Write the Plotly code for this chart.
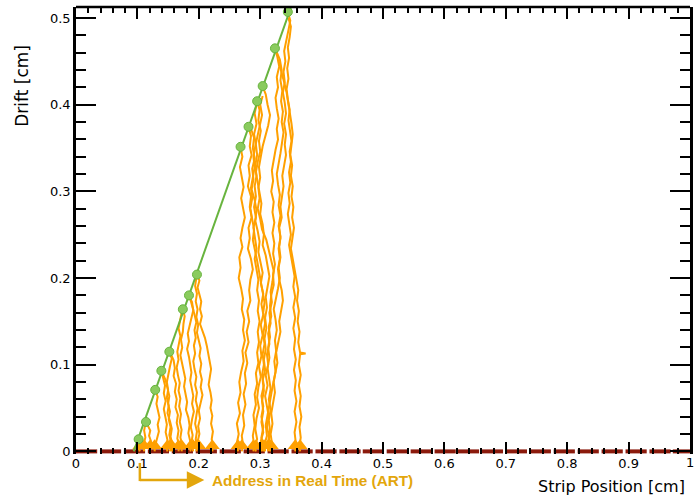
import plotly.graph_objects as go

# ---------------- data ----------------
# primary ionisation clusters along the track (x = strip position, y = drift)
cluster_x = [0.345, 0.324, 0.304, 0.295, 0.281, 0.268, 0.197, 0.184, 0.174, 0.152, 0.139, 0.129, 0.114, 0.102]
cluster_y = [0.507, 0.465, 0.4215, 0.404, 0.3745, 0.3514, 0.204, 0.180, 0.164, 0.115, 0.093, 0.071, 0.034, 0.014]

# straight track
track_x = [0.094, 0.352]
track_y = [0.0, 0.516]

# strip readout (left edges) and strip width
strip_lo = [0.000, 0.039, 0.078, 0.117, 0.156, 0.195, 0.234, 0.273, 0.312, 0.351, 0.390, 0.429, 0.467,
            0.506, 0.545, 0.584, 0.622, 0.661, 0.700, 0.739, 0.778, 0.817, 0.856, 0.895, 0.934, 0.972]
strip_w = 0.0345

# electron drift paths (x, y)
drift_paths = [
    [(0.268,0.351),(0.271,0.340),(0.267,0.328),(0.270,0.316),(0.273,0.305),(0.269,0.292),(0.272,0.281),(0.275,0.270),(0.271,0.258),(0.268,0.246),(0.271,0.236),(0.266,0.224),(0.268,0.212),(0.265,0.200),(0.269,0.188),(0.272,0.176),(0.270,0.164),(0.274,0.152),(0.272,0.140),(0.275,0.128),(0.271,0.116),(0.273,0.104),(0.269,0.092),(0.266,0.080),(0.268,0.068),(0.264,0.056),(0.267,0.044),(0.262,0.032),(0.265,0.020),(0.262,0.010),(0.264,0.0)],
    [(0.281,0.374),(0.285,0.364),(0.283,0.352),(0.286,0.342),(0.281,0.330),(0.283,0.318),(0.280,0.306),(0.285,0.294),(0.283,0.282),(0.286,0.270),(0.281,0.258),(0.283,0.246),(0.280,0.234),(0.285,0.222),(0.288,0.210),(0.284,0.198),(0.282,0.186),(0.284,0.174),(0.279,0.162),(0.282,0.150),(0.278,0.138),(0.281,0.126),(0.276,0.114),(0.279,0.102),(0.275,0.090),(0.277,0.078),(0.273,0.066),(0.276,0.054),(0.272,0.042),(0.274,0.030),(0.270,0.018),(0.272,0.008),(0.270,0.0)],
    [(0.285,0.372),(0.290,0.362),(0.288,0.350),(0.291,0.338),(0.287,0.326),(0.289,0.314),(0.286,0.302),(0.291,0.290),(0.294,0.278),(0.292,0.266),(0.296,0.254),(0.299,0.242),(0.297,0.230),(0.301,0.218),(0.304,0.206),(0.301,0.194),(0.305,0.182),(0.302,0.170),(0.305,0.158),(0.301,0.146),(0.304,0.134),(0.300,0.122),(0.302,0.110),(0.298,0.098),(0.301,0.086),(0.297,0.074),(0.295,0.062),(0.298,0.050),(0.294,0.038),(0.292,0.026),(0.295,0.014),(0.291,0.006),(0.293,0.0)],
    [(0.295,0.404),(0.299,0.394),(0.297,0.382),(0.301,0.370),(0.298,0.358),(0.300,0.346),(0.296,0.334),(0.293,0.322),(0.296,0.310),(0.299,0.298),(0.302,0.286),(0.300,0.274),(0.304,0.262),(0.306,0.250),(0.304,0.238),(0.309,0.226),(0.312,0.214),(0.315,0.202),(0.312,0.190),(0.309,0.178),(0.311,0.166),(0.308,0.154),(0.310,0.142),(0.307,0.130),(0.309,0.118),(0.306,0.106),(0.308,0.094),(0.304,0.082),(0.306,0.070),(0.303,0.058),(0.305,0.046),(0.302,0.034),(0.305,0.022),(0.301,0.012),(0.303,0.0)],
    [(0.304,0.421),(0.309,0.412),(0.312,0.400),(0.316,0.388),(0.313,0.376),(0.308,0.364),(0.304,0.352),(0.301,0.340),(0.298,0.328),(0.300,0.316),(0.297,0.304),(0.299,0.292),(0.296,0.280),(0.300,0.268),(0.303,0.256),(0.310,0.244),(0.314,0.232),(0.318,0.220),(0.322,0.208),(0.320,0.196),(0.317,0.184),(0.319,0.172),(0.315,0.160),(0.317,0.148),(0.313,0.136),(0.315,0.124),(0.311,0.112),(0.313,0.100),(0.309,0.088),(0.312,0.076),(0.308,0.064),(0.311,0.052),(0.314,0.040),(0.311,0.028),(0.315,0.016),(0.312,0.006),(0.313,0.0)],
    [(0.324,0.465),(0.328,0.455),(0.331,0.444),(0.327,0.432),(0.329,0.420),(0.325,0.408),(0.327,0.396),(0.330,0.384),(0.327,0.372),(0.329,0.360),(0.325,0.348),(0.322,0.336),(0.319,0.324),(0.321,0.312),(0.318,0.300),(0.322,0.288),(0.320,0.276),(0.323,0.264),(0.320,0.252),(0.323,0.240),(0.321,0.228),(0.324,0.216),(0.321,0.204),(0.322,0.192),(0.318,0.180),(0.316,0.168),(0.318,0.156),(0.314,0.144),(0.316,0.132),(0.313,0.120),(0.315,0.108),(0.312,0.096),(0.315,0.084),(0.317,0.072),(0.314,0.060),(0.317,0.048),(0.314,0.036),(0.316,0.024),(0.313,0.012),(0.316,0.0)],
    [(0.326,0.462),(0.332,0.452),(0.335,0.440),(0.333,0.428),(0.336,0.416),(0.334,0.404),(0.337,0.392),(0.335,0.380),(0.338,0.368),(0.336,0.356),(0.333,0.344),(0.330,0.332),(0.327,0.320),(0.329,0.308),(0.332,0.296),(0.330,0.284),(0.333,0.272),(0.330,0.260),(0.333,0.248),(0.331,0.236),(0.333,0.224),(0.330,0.212),(0.332,0.200),(0.329,0.188),(0.325,0.176),(0.322,0.164),(0.325,0.152),(0.327,0.140),(0.324,0.128),(0.326,0.116),(0.323,0.104),(0.325,0.092),(0.322,0.080),(0.324,0.068),(0.321,0.056),(0.318,0.044),(0.320,0.032),(0.317,0.020),(0.319,0.010),(0.318,0.0)],
    [(0.345,0.507),(0.349,0.497),(0.346,0.486),(0.342,0.474),(0.339,0.462),(0.341,0.450),(0.338,0.438),(0.340,0.426),(0.337,0.414),(0.340,0.402),(0.342,0.390),(0.339,0.378),(0.342,0.366),(0.340,0.354),(0.342,0.342),(0.339,0.330),(0.336,0.318),(0.338,0.306),(0.335,0.294),(0.333,0.282),(0.335,0.270),(0.331,0.258),(0.333,0.246),(0.330,0.234),(0.332,0.222),(0.329,0.210),(0.331,0.198),(0.335,0.186),(0.337,0.174),(0.334,0.162),(0.331,0.150),(0.333,0.138),(0.329,0.126),(0.326,0.114),(0.328,0.102),(0.324,0.090),(0.321,0.078),(0.318,0.066),(0.315,0.054),(0.312,0.042),(0.309,0.030),(0.311,0.018),(0.307,0.008),(0.308,0.0)],
    [(0.346,0.500),(0.350,0.490),(0.348,0.478),(0.345,0.466),(0.347,0.454),(0.344,0.442),(0.346,0.430),(0.343,0.418),(0.345,0.406),(0.348,0.394),(0.346,0.382),(0.349,0.370),(0.351,0.358),(0.348,0.346),(0.350,0.334),(0.347,0.322),(0.349,0.310),(0.346,0.298),(0.348,0.286),(0.345,0.274),(0.348,0.262),(0.350,0.250),(0.347,0.238),(0.350,0.226),(0.353,0.214),(0.356,0.202),(0.354,0.190),(0.357,0.178),(0.354,0.166),(0.357,0.154),(0.354,0.142),(0.357,0.130),(0.355,0.118),(0.358,0.106),(0.355,0.094),(0.358,0.082),(0.356,0.070),(0.359,0.058),(0.356,0.046),(0.359,0.034),(0.356,0.022),(0.358,0.010),(0.357,0.0)],
    [(0.330,0.450),(0.335,0.438),(0.339,0.426),(0.343,0.414),(0.346,0.402),(0.348,0.390),(0.351,0.378),(0.353,0.366),(0.351,0.354),(0.349,0.342),(0.352,0.330),(0.350,0.318),(0.353,0.306),(0.351,0.294),(0.354,0.282),(0.352,0.270),(0.355,0.258),(0.353,0.246),(0.350,0.234),(0.353,0.222),(0.356,0.210),(0.359,0.198),(0.362,0.186),(0.360,0.174),(0.363,0.162),(0.361,0.150),(0.364,0.138),(0.362,0.126),(0.365,0.114),(0.374,0.113),(0.365,0.112),(0.363,0.100),(0.366,0.088),(0.363,0.076),(0.366,0.064),(0.364,0.052),(0.367,0.040),(0.364,0.028),(0.366,0.016),(0.364,0.006),(0.365,0.0)],
    [(0.304,0.410),(0.300,0.400),(0.303,0.388),(0.299,0.376),(0.296,0.364),(0.292,0.352),(0.289,0.340),(0.291,0.328),(0.288,0.316),(0.285,0.304),(0.287,0.292),(0.284,0.280),(0.287,0.268),(0.290,0.256),(0.288,0.244),(0.292,0.232),(0.295,0.220),(0.298,0.208),(0.301,0.196),(0.305,0.184),(0.307,0.172),(0.305,0.160),(0.308,0.148),(0.305,0.136),(0.307,0.124),(0.304,0.112),(0.306,0.100),(0.303,0.088),(0.306,0.076),(0.302,0.064),(0.305,0.052),(0.302,0.040),(0.305,0.028),(0.302,0.016),(0.306,0.006),(0.306,0.0)],
    [(0.294,0.400),(0.291,0.390),(0.294,0.378),(0.290,0.366),(0.293,0.354),(0.295,0.342),(0.292,0.330),(0.294,0.318),(0.291,0.306),(0.293,0.294),(0.290,0.282),(0.293,0.270),(0.289,0.258),(0.292,0.246),(0.294,0.234),(0.291,0.222),(0.294,0.210),(0.297,0.198),(0.295,0.186),(0.298,0.174),(0.296,0.162),(0.299,0.150),(0.296,0.138),(0.298,0.126),(0.295,0.114),(0.297,0.102),(0.293,0.090),(0.295,0.078),(0.291,0.066),(0.293,0.054),(0.289,0.042),(0.291,0.030),(0.288,0.018),(0.290,0.008),(0.289,0.0)],
    [(0.102,0.014),(0.105,0.009),(0.102,0.004),(0.104,0.0)],
    [(0.114,0.034),(0.118,0.029),(0.121,0.024),(0.119,0.018),(0.122,0.012),(0.120,0.006),(0.121,0.0)],
    [(0.113,0.032),(0.111,0.024),(0.113,0.016),(0.110,0.008),(0.111,0.0)],
    [(0.129,0.071),(0.133,0.063),(0.131,0.055),(0.134,0.047),(0.136,0.039),(0.133,0.031),(0.135,0.023),(0.132,0.015),(0.129,0.007),(0.128,0.0)],
    [(0.139,0.093),(0.142,0.084),(0.145,0.076),(0.143,0.067),(0.146,0.058),(0.143,0.049),(0.145,0.040),(0.148,0.031),(0.146,0.022),(0.149,0.013),(0.147,0.006),(0.149,0.0)],
    [(0.141,0.090),(0.146,0.082),(0.149,0.073),(0.152,0.064),(0.150,0.055),(0.153,0.046),(0.151,0.037),(0.154,0.028),(0.152,0.019),(0.155,0.010),(0.153,0.0)],
    [(0.152,0.115),(0.156,0.107),(0.153,0.098),(0.151,0.089),(0.148,0.080),(0.150,0.071),(0.148,0.062),(0.151,0.053),(0.149,0.044),(0.153,0.035),(0.156,0.026),(0.154,0.017),(0.157,0.008),(0.156,0.0)],
    [(0.154,0.113),(0.159,0.105),(0.161,0.096),(0.159,0.087),(0.163,0.078),(0.161,0.069),(0.164,0.060),(0.162,0.051),(0.166,0.042),(0.164,0.033),(0.167,0.024),(0.165,0.015),(0.168,0.007),(0.167,0.0)],
    [(0.174,0.164),(0.177,0.156),(0.175,0.147),(0.174,0.138),(0.171,0.129),(0.173,0.120),(0.170,0.111),(0.173,0.102),(0.176,0.093),(0.178,0.084),(0.176,0.075),(0.179,0.066),(0.181,0.057),(0.179,0.048),(0.183,0.039),(0.185,0.030),(0.183,0.021),(0.186,0.012),(0.185,0.005),(0.187,0.0)],
    [(0.184,0.180),(0.189,0.172),(0.191,0.163),(0.188,0.154),(0.185,0.145),(0.182,0.136),(0.184,0.127),(0.181,0.118),(0.184,0.109),(0.186,0.100),(0.188,0.091),(0.186,0.082),(0.189,0.073),(0.191,0.064),(0.189,0.055),(0.192,0.046),(0.189,0.037),(0.187,0.028),(0.190,0.019),(0.188,0.010),(0.191,0.0)],
    [(0.197,0.204),(0.201,0.197),(0.198,0.189),(0.201,0.181),(0.204,0.173),(0.202,0.164),(0.205,0.156),(0.202,0.147),(0.206,0.139),(0.210,0.131),(0.213,0.122),(0.215,0.113),(0.218,0.104),(0.220,0.095),(0.218,0.086),(0.216,0.077),(0.219,0.068),(0.221,0.059),(0.219,0.050),(0.222,0.041),(0.220,0.032),(0.223,0.023),(0.221,0.014),(0.223,0.006),(0.222,0.0)],
    [(0.196,0.200),(0.194,0.191),(0.197,0.182),(0.195,0.173),(0.198,0.164),(0.196,0.155),(0.199,0.146),(0.197,0.137),(0.200,0.128),(0.203,0.119),(0.201,0.110),(0.204,0.101),(0.202,0.092),(0.205,0.083),(0.203,0.074),(0.206,0.065),(0.203,0.056),(0.200,0.047),(0.202,0.038),(0.199,0.029),(0.201,0.020),(0.198,0.011),(0.200,0.0)],
    [(0.172,0.160),(0.169,0.151),(0.167,0.142),(0.170,0.133),(0.167,0.124),(0.165,0.115),(0.167,0.106),(0.164,0.097),(0.166,0.088),(0.169,0.079),(0.167,0.070),(0.170,0.061),(0.168,0.052),(0.171,0.043),(0.169,0.034),(0.172,0.025),(0.170,0.016),(0.173,0.007),(0.172,0.0)],
    [(0.186,0.176),(0.190,0.167),(0.193,0.158),(0.196,0.149),(0.193,0.140),(0.195,0.131),(0.192,0.122),(0.194,0.113),(0.191,0.104),(0.193,0.095),(0.196,0.086),(0.194,0.077),(0.197,0.068),(0.195,0.059),(0.198,0.050),(0.196,0.041),(0.194,0.032),(0.197,0.023),(0.195,0.014),(0.197,0.006),(0.196,0.0)],
]

x_ticks = [0, 0.1, 0.2, 0.3, 0.4, 0.5, 0.6, 0.7, 0.8, 0.9, 1]
x_tick_labels = ["0", "0.1", "0.2", "0.3", "0.4", "0.5", "0.6", "0.7", "0.8", "0.9", "1"]
y_ticks = [0, 0.1, 0.2, 0.3, 0.4, 0.5]
y_tick_labels = ["0", "0.1", "0.2", "0.3", "0.4", "0.5"]

ORANGE = "#FFA000"
GREEN_LINE = "#68B43E"
GREEN_FILL = "#8ACB5E"
STRIP_RED = "#8B1A0C"
GOLD = "#E3A60C"

fig = go.Figure()

# strips
sx, sy = [], []
for lo in strip_lo:
    sx += [lo, lo + strip_w, None]
    sy += [0.0, 0.0, None]
fig.add_trace(go.Scatter(x=sx, y=sy, mode="lines", line=dict(color=STRIP_RED, width=4),
                         hoverinfo="skip", showlegend=False))

# drift paths
for path in drift_paths:
    fig.add_trace(go.Scatter(x=[p[0] for p in path], y=[p[1] for p in path], mode="lines",
                             line=dict(color=ORANGE, width=2), hoverinfo="skip", showlegend=False))

# avalanches at the strips
fig.add_trace(go.Scatter(x=[path[-1][0] for path in drift_paths], y=[0.0065] * len(drift_paths),
                         mode="markers", marker=dict(symbol="triangle-up", size=13, color=ORANGE),
                         hoverinfo="skip", showlegend=False, cliponaxis=False))

# track and clusters
fig.add_trace(go.Scatter(x=track_x, y=track_y, mode="lines", line=dict(color=GREEN_LINE, width=2),
                         hoverinfo="skip", showlegend=False))
fig.add_trace(go.Scatter(x=cluster_x, y=cluster_y, mode="markers",
                         marker=dict(size=9, color=GREEN_FILL, line=dict(color=GREEN_LINE, width=1)),
                         hoverinfo="skip", showlegend=False, cliponaxis=False))

tickfont = dict(family="DejaVu Sans", size=13, color="black")

# the label at the right end of the axis is written as an annotation (the axis hides it at the edge)
axis_x_text = x_tick_labels[:-1] + [""]

fig.update_xaxes(range=[0, 1], tickvals=x_ticks, ticktext=axis_x_text, ticks="inside", ticklen=12,
                 tickwidth=2, tickcolor="black", showline=False, mirror="allticks", showgrid=False,
                 zeroline=False, tickfont=tickfont, ticklabeloverflow="allow",
                 minor=dict(dtick=0.02, ticks="inside", ticklen=6, tickwidth=2, tickcolor="black", showgrid=False))
fig.update_yaxes(range=[-0.003, 0.5127], tickvals=y_ticks, ticktext=y_tick_labels, ticks="inside", ticklen=20,
                 tickwidth=2, tickcolor="black", showline=True, linewidth=2.5, linecolor="black",
                 mirror="allticks", showgrid=False, zeroline=False, tickfont=tickfont, ticklabeloverflow="allow",
                 minor=dict(dtick=0.02, ticks="inside", ticklen=10, tickwidth=2, tickcolor="black", showgrid=False))

fig.add_annotation(x=x_ticks[-1], y=-0.0201, xref="x", yref="paper", text=x_tick_labels[-1],
                   showarrow=False, xanchor="center", yanchor="middle", font=tickfont)

fig.add_shape(type="line", xref="paper", yref="paper", x0=0, x1=1, y0=1, y1=1,
              line=dict(color="black", width=2.5))

# ART arrow
fig.add_shape(type="line", xref="x", yref="paper", x0=0.104, x1=0.104, y0=-0.020, y1=-0.0606,
              line=dict(color=GOLD, width=2.5))
fig.add_annotation(x=0.209, y=-0.0582, xref="x", yref="paper", ax=0.102, ay=0, axref="x", ayref="pixel",
                   showarrow=True, arrowhead=2, arrowsize=1.4, arrowwidth=2.5, arrowcolor=GOLD, text="")
fig.add_annotation(x=0.219, y=-0.0582, xref="x", yref="paper", text="<b>Address in Real Time (ART)</b>",
                   showarrow=False, xanchor="left", yanchor="middle",
                   font=dict(family="Liberation Sans", size=15.3, color=GOLD))

# axis titles
fig.add_annotation(x=0.995, y=-0.0738, xref="paper", yref="paper", text="Strip Position [cm]",
                   showarrow=False, xanchor="right", yanchor="middle",
                   font=dict(family="DejaVu Sans", size=16, color="black"))
fig.add_annotation(x=-0.0875, y=0.8244, xref="paper", yref="paper", text="Drift [cm]", textangle=-90,
                   showarrow=False, xanchor="center", yanchor="middle",
                   font=dict(family="DejaVu Sans", size=17, color="black"))

fig.update_layout(width=697, height=499, margin=dict(l=76, r=4, t=7, b=45),
                  plot_bgcolor="white", paper_bgcolor="white", showlegend=False)

# remove the page's default body margin so the figure fills the window exactly; no mode bar
fig.write_html("out.html", config={"displayModeBar": False},
               post_script="document.body.style.margin='0px';document.body.style.overflow='hidden';")
